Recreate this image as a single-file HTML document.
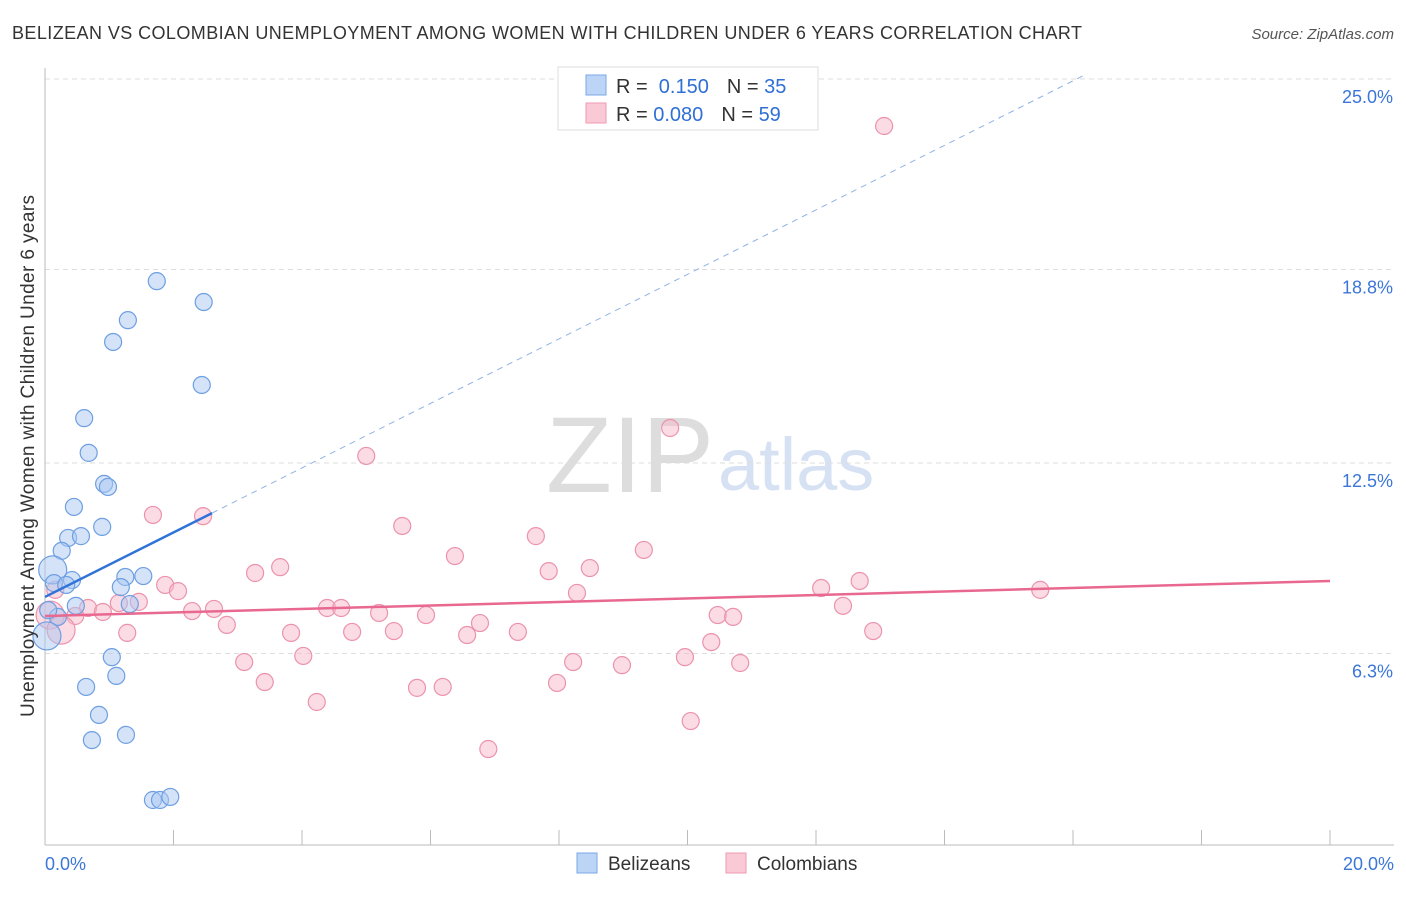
<!DOCTYPE html>
<html><head><meta charset="utf-8"><style>
body{margin:0;background:#fff;font-family:"Liberation Sans",sans-serif;}
svg text{font-family:"Liberation Sans",sans-serif;}
</style></head><body>
<svg id="chart" width="1406" height="892">
<text x="12" y="39" font-size="18" fill="#333" textLength="1070">BELIZEAN VS COLOMBIAN UNEMPLOYMENT AMONG WOMEN WITH CHILDREN UNDER 6 YEARS CORRELATION CHART</text>
<text x="1394" y="39" font-size="15" fill="#555" font-style="italic" text-anchor="end">Source: ZipAtlas.com</text>
<text x="714" y="492" font-size="108" fill="#ddd" text-anchor="end" font-family="Liberation Serif">ZIP</text>
<text x="718" y="490" font-size="74" fill="#d6e2f3">atlas</text>
<g id="grid"></g><g id="axes"></g><g id="marks"></g>
<text transform="translate(34,456) rotate(-90)" font-size="19" fill="#333" text-anchor="middle" textLength="522">Unemployment Among Women with Children Under 6 years</text>
<g>
<rect x="558" y="67" width="260" height="63" fill="#fff" stroke="#ddd"/>
<rect x="586" y="75" width="20" height="20" fill="#bcd4f5" stroke="#7aa7e6"/>
<rect x="586" y="103" width="20" height="20" fill="#f9c9d6" stroke="#ee9ab2"/>
<text x="616" y="93" font-size="20" fill="#333">R = <tspan fill="#2f6fd6">&#160;0.150</tspan><tspan dx="18">N = </tspan><tspan fill="#2f6fd6">35</tspan></text>
<text x="616" y="121" font-size="20" fill="#333">R = <tspan fill="#2f6fd6">0.080</tspan><tspan dx="18">N = </tspan><tspan fill="#2f6fd6">59</tspan></text>
</g>
<g>
<rect x="577" y="853" width="20" height="20" fill="#bcd4f5" stroke="#7aa7e6"/>
<text x="608" y="870" font-size="19" fill="#333">Belizeans</text>
<rect x="726" y="853" width="20" height="20" fill="#f9c9d6" stroke="#ee9ab2"/>
<text x="757" y="870" font-size="19" fill="#333">Colombians</text>
</g>
</svg>
<script>
const yTicks=[25.0,18.8,12.5,6.3];
const yTickLabels=["25.0%","18.8%","12.5%","6.3%"];
const xLabels=["0.0%","20.0%"];
const blueX=[1.74,2.47,1.29,1.06,2.44,0.61,0.68,0.92,0.98,0.45,0.89,0.36,0.56,0.26,0.12,0.14,0.42,0.33,1.25,1.53,1.18,1.32,0.48,0.2,0.03,1.04,1.11,0.64,0.84,0.73,1.26,1.68,1.79,1.95,0.05];
const blueY=[18.42,17.74,17.15,16.44,15.04,13.96,12.83,11.82,11.72,11.07,10.42,10.06,10.12,9.64,9.02,8.59,8.69,8.53,8.79,8.82,8.46,7.91,7.85,7.49,6.87,6.18,5.57,5.21,4.30,3.48,3.65,1.53,1.53,1.63,7.71];
const pinkX=[13.06,9.73,5.0,1.68,2.46,5.56,7.64,6.38,9.32,3.66,3.27,7.84,8.48,1.87,2.07,12.68,12.08,15.49,8.28,0.16,1.46,1.15,0.67,0.9,2.29,2.63,4.39,4.61,5.2,5.93,12.42,10.47,10.71,0.47,0.08,2.83,6.77,3.83,4.78,5.43,6.57,7.36,1.28,12.89,0.25,10.37,4.02,3.1,8.22,8.98,9.96,10.82,3.42,5.79,6.19,7.97,4.23,10.05,6.9];
const pinkY=[23.47,13.64,12.73,10.81,10.77,10.45,10.12,9.47,9.67,9.11,8.92,8.98,9.08,8.53,8.33,8.66,8.43,8.37,8.27,8.37,7.98,7.94,7.78,7.65,7.68,7.75,7.78,7.78,7.62,7.55,7.85,7.55,7.49,7.52,7.55,7.23,7.29,6.97,7.0,7.03,6.90,7.0,6.97,7.03,7.06,6.67,6.22,6.02,6.02,5.92,6.18,5.99,5.37,5.18,5.21,5.34,4.72,4.10,3.19];
const blueTrend=[8.14,1.05];
const pinkTrend=[7.52,0.057];
const NS="http://www.w3.org/2000/svg";
const xs=v=>45+v*64.25, ys=v=>79+(25-v)*30.72;
function mk(t,a,p){const e=document.createElementNS(NS,t);for(const k in a)e.setAttribute(k,a[k]);p.appendChild(e);return e;}
const grid=document.getElementById('grid'),axes=document.getElementById('axes'),marks=document.getElementById('marks');
yTicks.forEach((t,i)=>{
 const l=mk('line',{x1:45,x2:1394,y1:ys(t),y2:ys(t),stroke:'#ddd','stroke-dasharray':'5,4'},grid);
 
 
 const tx=mk('text',{x:1393,y:ys(t)+24,'font-size':18,fill:'#3b76d8','text-anchor':'end'},axes);
 tx.textContent=yTickLabels[i];
 
 
});
mk('line',{x1:45,x2:45,y1:68,y2:845,stroke:'#bbb'},axes);
mk('line',{x1:45,x2:1394,y1:845,y2:845,stroke:'#bbb'},axes);
for(let i=1;i<=10;i++){const x=xs(i*2);mk('line',{x1:x,x2:x,y1:830,y2:845,stroke:'#bbb'},axes);}
[[0,'start',45],[20,'end',1394]].forEach((a,i)=>{const t=mk('text',{x:a[2],y:870,'font-size':18,fill:'#3b76d8','text-anchor':a[1]},axes);t.textContent=xLabels[i];
 
 });
function dots(X,Y,fill,stroke,name,bigIdx){X.forEach((x,i)=>{const r=bigIdx.includes(i)?14:8.5;
 const c=mk('circle',{cx:xs(x),cy:ys(Y[i]),r:r,fill:fill,'fill-opacity':0.5,stroke:stroke,'stroke-width':1.2},marks);
 
 });}
dots(pinkX,pinkY,'#f7b8c9','#ec93ac','colombian-point',[34,44]);
dots(blueX,blueY,'#a9c8f2','#6e9fe2','belizean-point',[24,14]);
let l=mk('line',{x1:xs(0),y1:ys(pinkTrend[0]),x2:xs(20),y2:ys(pinkTrend[0]+pinkTrend[1]*20),stroke:'#e8688f','stroke-width':2.5},marks);


l=mk('line',{x1:xs(0),y1:ys(blueTrend[0]),x2:xs(2.6),y2:ys(blueTrend[0]+blueTrend[1]*2.6),stroke:'#2f73d9','stroke-width':2.5},marks);


l=mk('line',{x1:xs(2.6),y1:ys(blueTrend[0]+blueTrend[1]*2.6),x2:xs(16.15),y2:ys(blueTrend[0]+blueTrend[1]*16.15),stroke:'#8fb2e6','stroke-width':1,'stroke-dasharray':'6,5'},marks);


</script>
</body></html>
